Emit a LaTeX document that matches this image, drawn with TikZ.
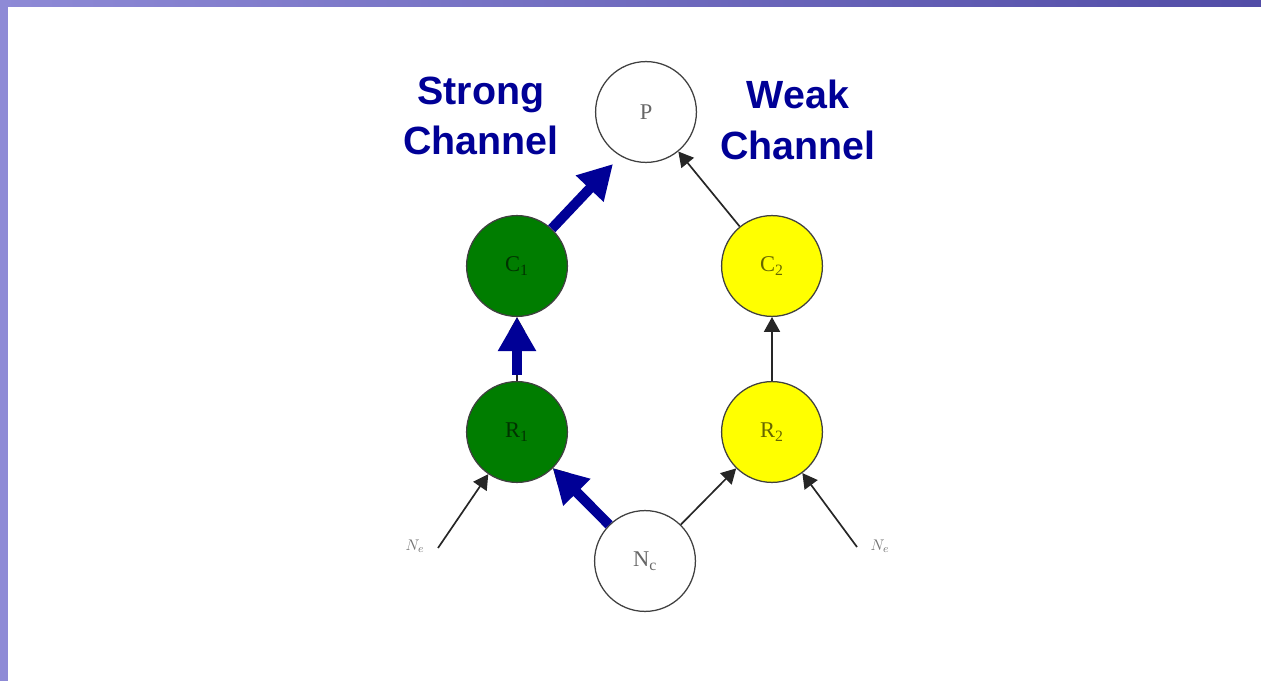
\documentclass[tikz,border=0pt]{standalone}
\usepackage{fontspec}
\setmainfont{Liberation Serif}
\newfontfamily\titlefont{Liberation Sans}
\usetikzlibrary{arrows.meta}

\definecolor{marco}{RGB}{96,90,196}
\definecolor{marcoclaro}{RGB}{142,138,214}
\definecolor{canal}{RGB}{0,0,150}
\definecolor{verde}{RGB}{0,125,0}
\definecolor{amarillo}{RGB}{255,255,0}

\begin{document}
\begin{tikzpicture}[
    x=0.025cm,
    y=-0.025cm,
    estado/.style={draw=black!75,line width=0.9pt,circle,minimum size=2.52cm,inner sep=0pt,
        font=\fontsize{16}{18}\selectfont,text=black,text opacity=0.6},
    debil/.style={black!85,line width=1.2pt,-{Triangle[width=0.4cm,length=0.37cm]}},
    fuerte/.style={canal,line width=0.25cm,-{Triangle[width=0.9cm,length=0.85cm]}},
    ruido/.style={font=\fontsize{11}{12}\selectfont,text=black!55},
    titulo/.style={font=\titlefont\bfseries\fontsize{28}{36}\selectfont,text=canal,align=center}
]
    % Marco de la diapositiva
    \useasboundingbox (0,0) rectangle (1261,681);
    \fill[marcoclaro] (0,0) rectangle (8,681);
    \shade[left color=marcoclaro,right color=marco!85!black] (0,0) rectangle (1261,7);

    % Nodos
    \node[estado] (P) at (646,112) {P};
    \node[estado,fill=verde] (C1) at (517,266) {C\textsubscript{1}};
    \node[estado,fill=verde] (R1) at (517,432) {R\textsubscript{1}};
    \node[estado,fill=amarillo] (C2) at (772,266) {C\textsubscript{2}};
    \node[estado,fill=amarillo] (R2) at (772,432) {R\textsubscript{2}};
    \node[estado] (Nc) at (645,561) {N\textsubscript{c}};

    % Ruido de entorno
    \coordinate (srcL) at (438,548);
    \coordinate (srcR) at (857,547);
    \node[ruido] (NeL) at (415,546) {$N_e$};
    \node[ruido] (NeR) at (880,546) {$N_e$};

    % Grafo original
    \draw[debil] (srcL) -- (R1);
    \draw[debil] (srcR) -- (R2);
    \draw[debil] (Nc) -- (R1);
    \draw[debil] (Nc) -- (R2);
    \draw[debil] (R1) -- (C1);
    \draw[debil] (R2) -- (C2);
    \draw[debil] (C2) -- (P);

    % Canal fuerte
    \coordinate (tipP) at (613,164);
    \draw[fuerte] (Nc) -- (R1);
    \draw[fuerte,shorten <=0.15cm] (R1) -- (C1);
    \draw[fuerte] (C1.47) -- (tipP);

    \node[titulo] (fuerteTxt) at (481,116) {Strong\\Channel};
    \node[titulo] (debilTxt) at (798,120) {Weak\\Channel};
\end{tikzpicture}
\end{document}
